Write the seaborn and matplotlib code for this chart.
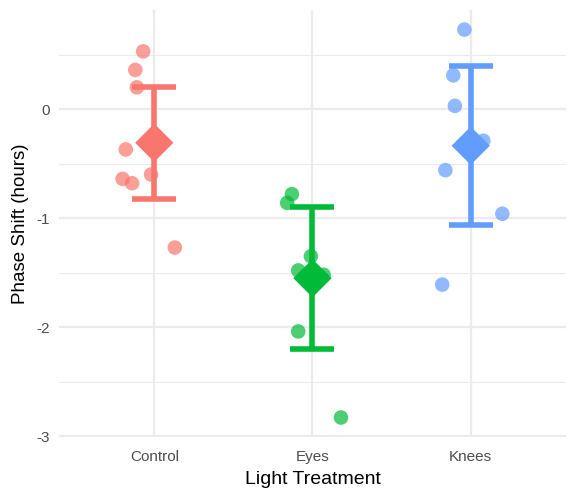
import numpy as np
import pandas as pd
import matplotlib
matplotlib.use("Agg")
import matplotlib.pyplot as plt
import seaborn as sns

# ── Data ──────────────────────────────────────────────────────────────────────
groups = ["Control", "Eyes", "Knees"]
colors = ["#F8766D", "#00BA38", "#619CFF"]

control_shift = [0.53, 0.36, 0.20, -0.37, -0.60, -0.64, -0.68, -1.27]
eyes_shift = [-0.78, -0.86, -1.35, -1.48, -1.52, -2.04, -2.83]
knees_shift = [0.73, 0.31, 0.03, -0.29, -0.56, -0.96, -1.61]

# horizontal jitter (category units)
control_jitter = [-0.07, -0.12, -0.11, -0.18, -0.02, -0.20, -0.14, 0.13]
eyes_jitter = [-0.13, -0.16, -0.01, -0.09, 0.07, -0.09, 0.18]
knees_jitter = [-0.04, -0.11, -0.10, 0.08, -0.16, 0.20, -0.18]

df = pd.DataFrame({
    "treatment": ["Control"] * len(control_shift) + ["Eyes"] * len(eyes_shift)
                 + ["Knees"] * len(knees_shift),
    "shift": control_shift + eyes_shift + knees_shift,
    "jitter": control_jitter + eyes_jitter + knees_jitter,
})
df["x"] = df["treatment"].map({g: i for i, g in enumerate(groups)}) + df["jitter"]

# mean and t-based 95% CI per group
t_crit = {8: 2.365, 7: 2.447}
summ = df.groupby("treatment")["shift"].agg(["mean", "std", "count"]).reindex(groups)
summ["half"] = [t_crit[n] * s / np.sqrt(n) for s, n in zip(summ["std"], summ["count"])]
summ["pos"] = range(len(groups))

# ── Plot ──────────────────────────────────────────────────────────────────────
sns.set_theme(style="whitegrid")
plt.rcParams["font.family"] = ["Liberation Sans", "DejaVu Sans"]

fig, ax = plt.subplots(figsize=(5.76, 4.99), dpi=100)
fig.subplots_adjust(left=0.103, right=0.982, top=0.98, bottom=0.124)

palette = dict(zip(groups, colors))
sns.scatterplot(data=df, x="x", y="shift", hue="treatment", palette=palette,
                s=110, alpha=0.7, edgecolor="none", legend=False, ax=ax,
                zorder=3)

for (g, row), c in zip(summ.iterrows(), colors):
    ax.errorbar(row["pos"], row["mean"], yerr=row["half"], color=c,
                lw=4, capsize=15.5, capthick=4, fmt="none", zorder=4)
sns.scatterplot(data=summ.reset_index(), x="pos", y="mean", hue="treatment",
                palette=palette, marker="D", s=380, edgecolor="none",
                legend=False, ax=ax, zorder=5)

ax.set_xlim(-0.6, 2.6)
ax.set_ylim(-3.01, 0.91)
ax.set_xticks(range(len(groups)))
ax.set_xticklabels(groups)
ax.set_yticks([0, -1, -2, -3])
ax.set_yticklabels(["0", "-1", "-2", "-3"])
ax.set_yticks([0.5, -0.5, -1.5, -2.5], minor=True)

ax.set_facecolor("white")
for s in ax.spines.values():
    s.set_visible(False)
ax.grid(which="major", color="#EBEBEB", lw=1.6)
ax.grid(which="minor", axis="y", color="#EBEBEB", lw=0.8)
ax.grid(which="minor", axis="x", visible=False)
ax.tick_params(which="both", length=0, labelsize=11, labelcolor="#4D4D4D")
ax.tick_params(axis="x", pad=9)
ax.tick_params(axis="y", pad=7)

ax.set_xlabel("Light Treatment", fontsize=14, color="black", labelpad=5)
ax.set_ylabel("Phase Shift (hours)", fontsize=13.5, color="black", labelpad=5)

fig.savefig("out.png", dpi=100)
